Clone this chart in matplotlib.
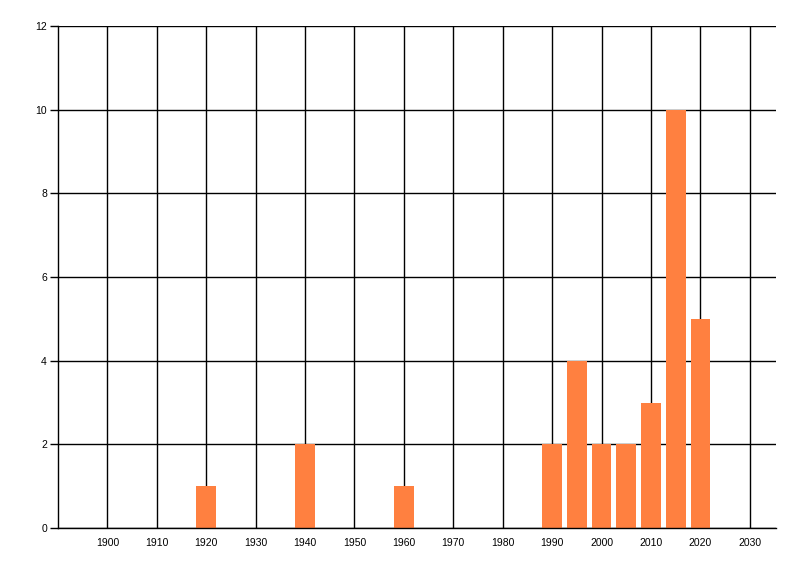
import matplotlib
matplotlib.use('Agg')
import matplotlib.pyplot as plt

# decade / half-decade bins and counts
years = [1920, 1940, 1960, 1990, 1995, 2000, 2005, 2010, 2015, 2020]
counts = [1, 2, 1, 2, 4, 2, 2, 3, 10, 5]

x_ticks = list(range(1900, 2031, 10))
y_ticks = list(range(0, 13, 2))

plt.rcParams['font.family'] = ['Liberation Sans', 'DejaVu Sans']

fig = plt.figure(figsize=(8, 5.76), dpi=100)
ax = fig.add_axes([58 / 800, 1 - 528 / 576, (776 - 58) / 800, (528 - 26) / 576])

ax.bar(years, counts, width=4, color='#FF8040', zorder=3)

ax.set_xlim(1890, 2035.3)
ax.set_ylim(0, 12)
ax.set_xticks(x_ticks)
ax.set_yticks(y_ticks)

# black grid, like the WinForms chart
ax.grid(True, color='black', linewidth=1, zorder=1)
ax.set_axisbelow(True)

for side in ['top', 'right']:
    ax.spines[side].set_visible(False)
for side in ['left', 'bottom']:
    ax.spines[side].set_linewidth(1)
    ax.spines[side].set_zorder(4)

ax.tick_params(axis='y', length=6, width=1, pad=2, labelsize=7.5)
ax.tick_params(axis='x', length=0, pad=7, labelsize=7.5)

plt.savefig('out.png', dpi=100)
plt.close(fig)
